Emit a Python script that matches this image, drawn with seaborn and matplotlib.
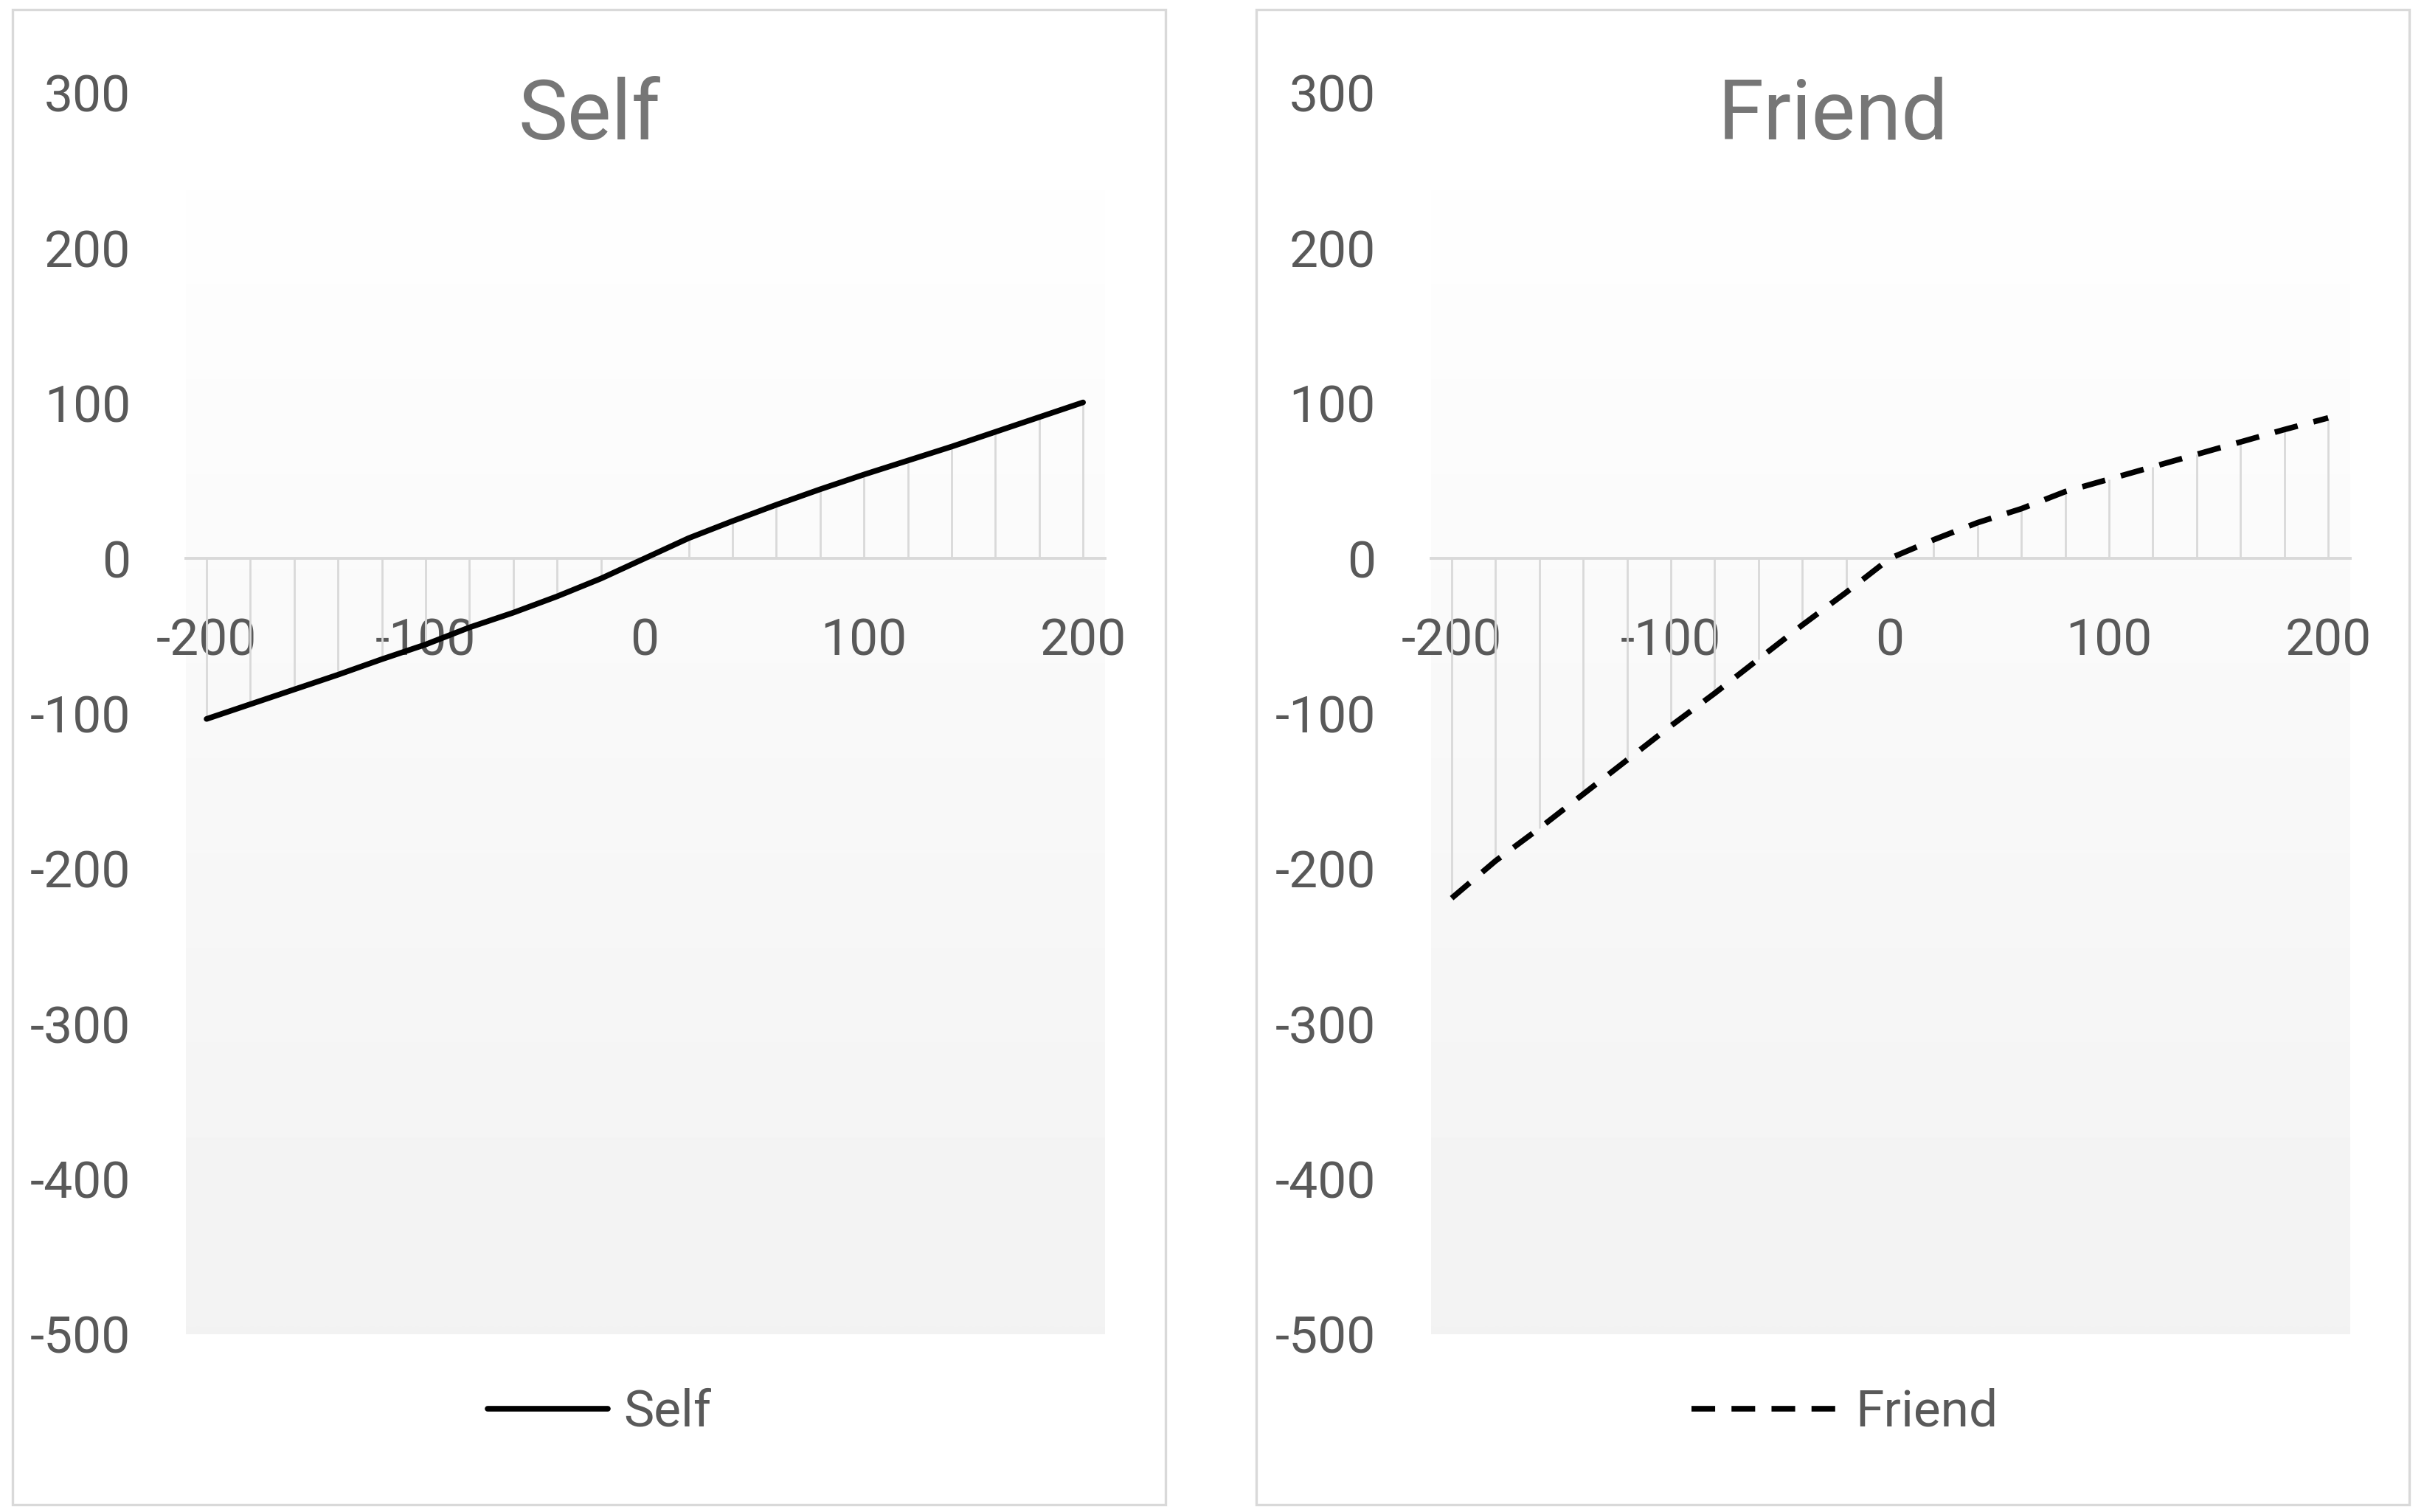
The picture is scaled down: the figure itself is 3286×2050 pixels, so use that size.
import numpy as np
import pandas as pd
import seaborn as sns
import matplotlib.pyplot as plt
from matplotlib.patches import Rectangle

# Data

outcome = list(range(-200, 201, 20))

self_value = [-103.5, -94, -84.5, -75, -65, -55.5, -44.5, -35, -24.5, -13, 0,
              13, 24, 34.5, 44.5, 54, 63, 72, 81.5, 91, 100.5]

friend_value = [-219, -195, -174, -152, -130, -108, -87, -65, -43, -22, 0,
                12, 23, 32, 43, 51, 59, 67, 75, 83, 90.5]

y_ticks = [-500, -400, -300, -200, -100, 0, 100, 200, 300]
x_ticks = [-200, -100, 0, 100, 200]

# Style

sns.set_theme(style="white")
plt.rcParams['font.family'] = ['Roboto', 'DejaVu Sans']
plt.rcParams['axes.unicode_minus'] = False

tick_color = "#595959"
title_color = "#767676"
light = "#d9d9d9"

fig = plt.figure(figsize=(32.87, 20.5), dpi=100)

panels = [
    # name, values, linestyle, axes left, panel box left, handle length
    ("Self", self_value, "-", 0.0767, 0.0052, 2.35),
    ("Friend", friend_value, (0, (4.2, 2.9)), 0.5902, 0.5181, 2.9),
]

grad = np.linspace(1.0, 0.949, 256).reshape(-1, 1)
xlim = (-209.4, 210)

for name, values, ls, left, box_left, hlen in panels:
    # outer chart border
    fig.patches.append(Rectangle((box_left, 0.005), 0.4755, 0.9887,
                                 transform=fig.transFigure, fill=False,
                                 edgecolor=light, lw=2.4, zorder=0))

    ax = fig.add_axes([left, 0.1176, 0.379, 0.821])
    ax.imshow(grad, extent=[xlim[0], xlim[1], -500, 300], aspect="auto",
              cmap="gray", vmin=0, vmax=1, zorder=0, interpolation="bilinear")

    # drop lines
    ax.vlines(outcome, 0, values, color=light, lw=2.0, zorder=1)

    sns.lineplot(x=outcome, y=values, ax=ax, color="black", lw=5.5,
                 linestyle=ls, label=name, zorder=3)

    ax.set_xlim(*xlim)
    ax.set_ylim(-500, 300)
    ax.set_xticks(x_ticks)
    ax.set_yticks(y_ticks)
    ax.set_xlabel("")
    ax.set_ylabel("")

    for s in ["left", "top", "right"]:
        ax.spines[s].set_visible(False)
    ax.spines["bottom"].set_position(("data", 0))
    ax.spines["bottom"].set_color(light)
    ax.spines["bottom"].set_linewidth(2.8)
    ax.spines["bottom"].set_zorder(2)

    ax.tick_params(axis="both", length=0, labelsize=50, labelcolor=tick_color)
    ax.tick_params(axis="x", pad=57)
    ax.tick_params(axis="y", pad=54)

    ax.legend(loc="center", bbox_to_anchor=(0.45, -0.063), frameon=False,
              fontsize=50, labelcolor=tick_color, handlelength=hlen,
              handletextpad=0.3)

    fig.text(box_left + 0.238, 0.923, name, ha="center", va="center",
             fontsize=81, color=title_color)

plt.savefig("out.png", dpi=100)
